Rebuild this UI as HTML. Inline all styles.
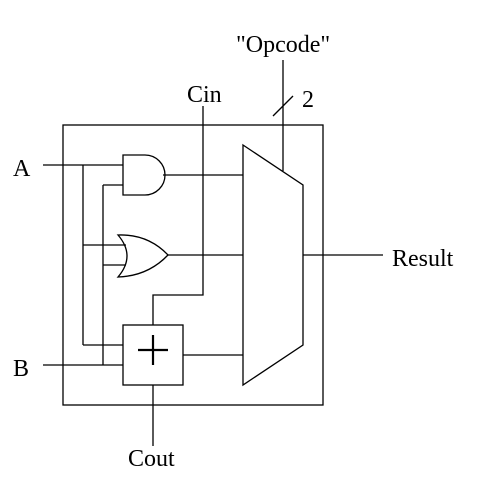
<!DOCTYPE html>
<html><head><style>
html,body{margin:0;padding:0;background:#fff;}
svg text{font-family:"Liberation Serif",serif;font-size:24px;fill:#000;}
</style></head><body>
<svg width="491" height="479" viewBox="0 0 491 479" xmlns="http://www.w3.org/2000/svg">
<g fill="none" stroke="#000" stroke-width="1.3">
<rect x="63" y="125" width="260" height="280"/>
<polygon points="243,145 303,185 303,345 243,385"/>
<line x1="283" y1="60" x2="283" y2="171"/>
<line x1="273" y1="116" x2="293" y2="96"/>
<polyline points="203,106 203,295 153,295 153,325"/>
<rect x="123" y="325" width="60" height="60"/>
<line x1="138" y1="350" x2="168" y2="350" stroke-width="2.2"/>
<line x1="153" y1="335" x2="153" y2="365" stroke-width="2.2"/>
<line x1="153" y1="385" x2="153" y2="446"/>
<line x1="183" y1="355" x2="243" y2="355"/>
<path d="M123,155 L145,155 A20,20 0 0 1 145,195 L123,195 Z"/>
<line x1="163" y1="175" x2="243" y2="175"/>
<path d="M118,235 Q148,234 168,255 Q148,276 118,277 Q136,256 118,235 Z"/>
<line x1="168" y1="255" x2="243" y2="255"/>
<line x1="43" y1="165" x2="123" y2="165"/>
<line x1="103" y1="185" x2="123" y2="185"/>
<line x1="83" y1="165" x2="83" y2="345"/>
<line x1="103" y1="185" x2="103" y2="365"/>
<line x1="83" y1="245" x2="126" y2="245"/>
<line x1="103" y1="265" x2="126" y2="265"/>
<line x1="83" y1="345" x2="123" y2="345"/>
<line x1="43" y1="365" x2="123" y2="365"/>
<line x1="303" y1="255" x2="383" y2="255"/>
</g>
<text x="13" y="176">A</text>
<text x="13" y="376">B</text>
<text x="187" y="102">Cin</text>
<text x="236" y="52">"Opcode"</text>
<text x="302" y="107">2</text>
<text x="392" y="266">Result</text>
<text x="128" y="466">Cout</text>
</svg>
</body></html>
